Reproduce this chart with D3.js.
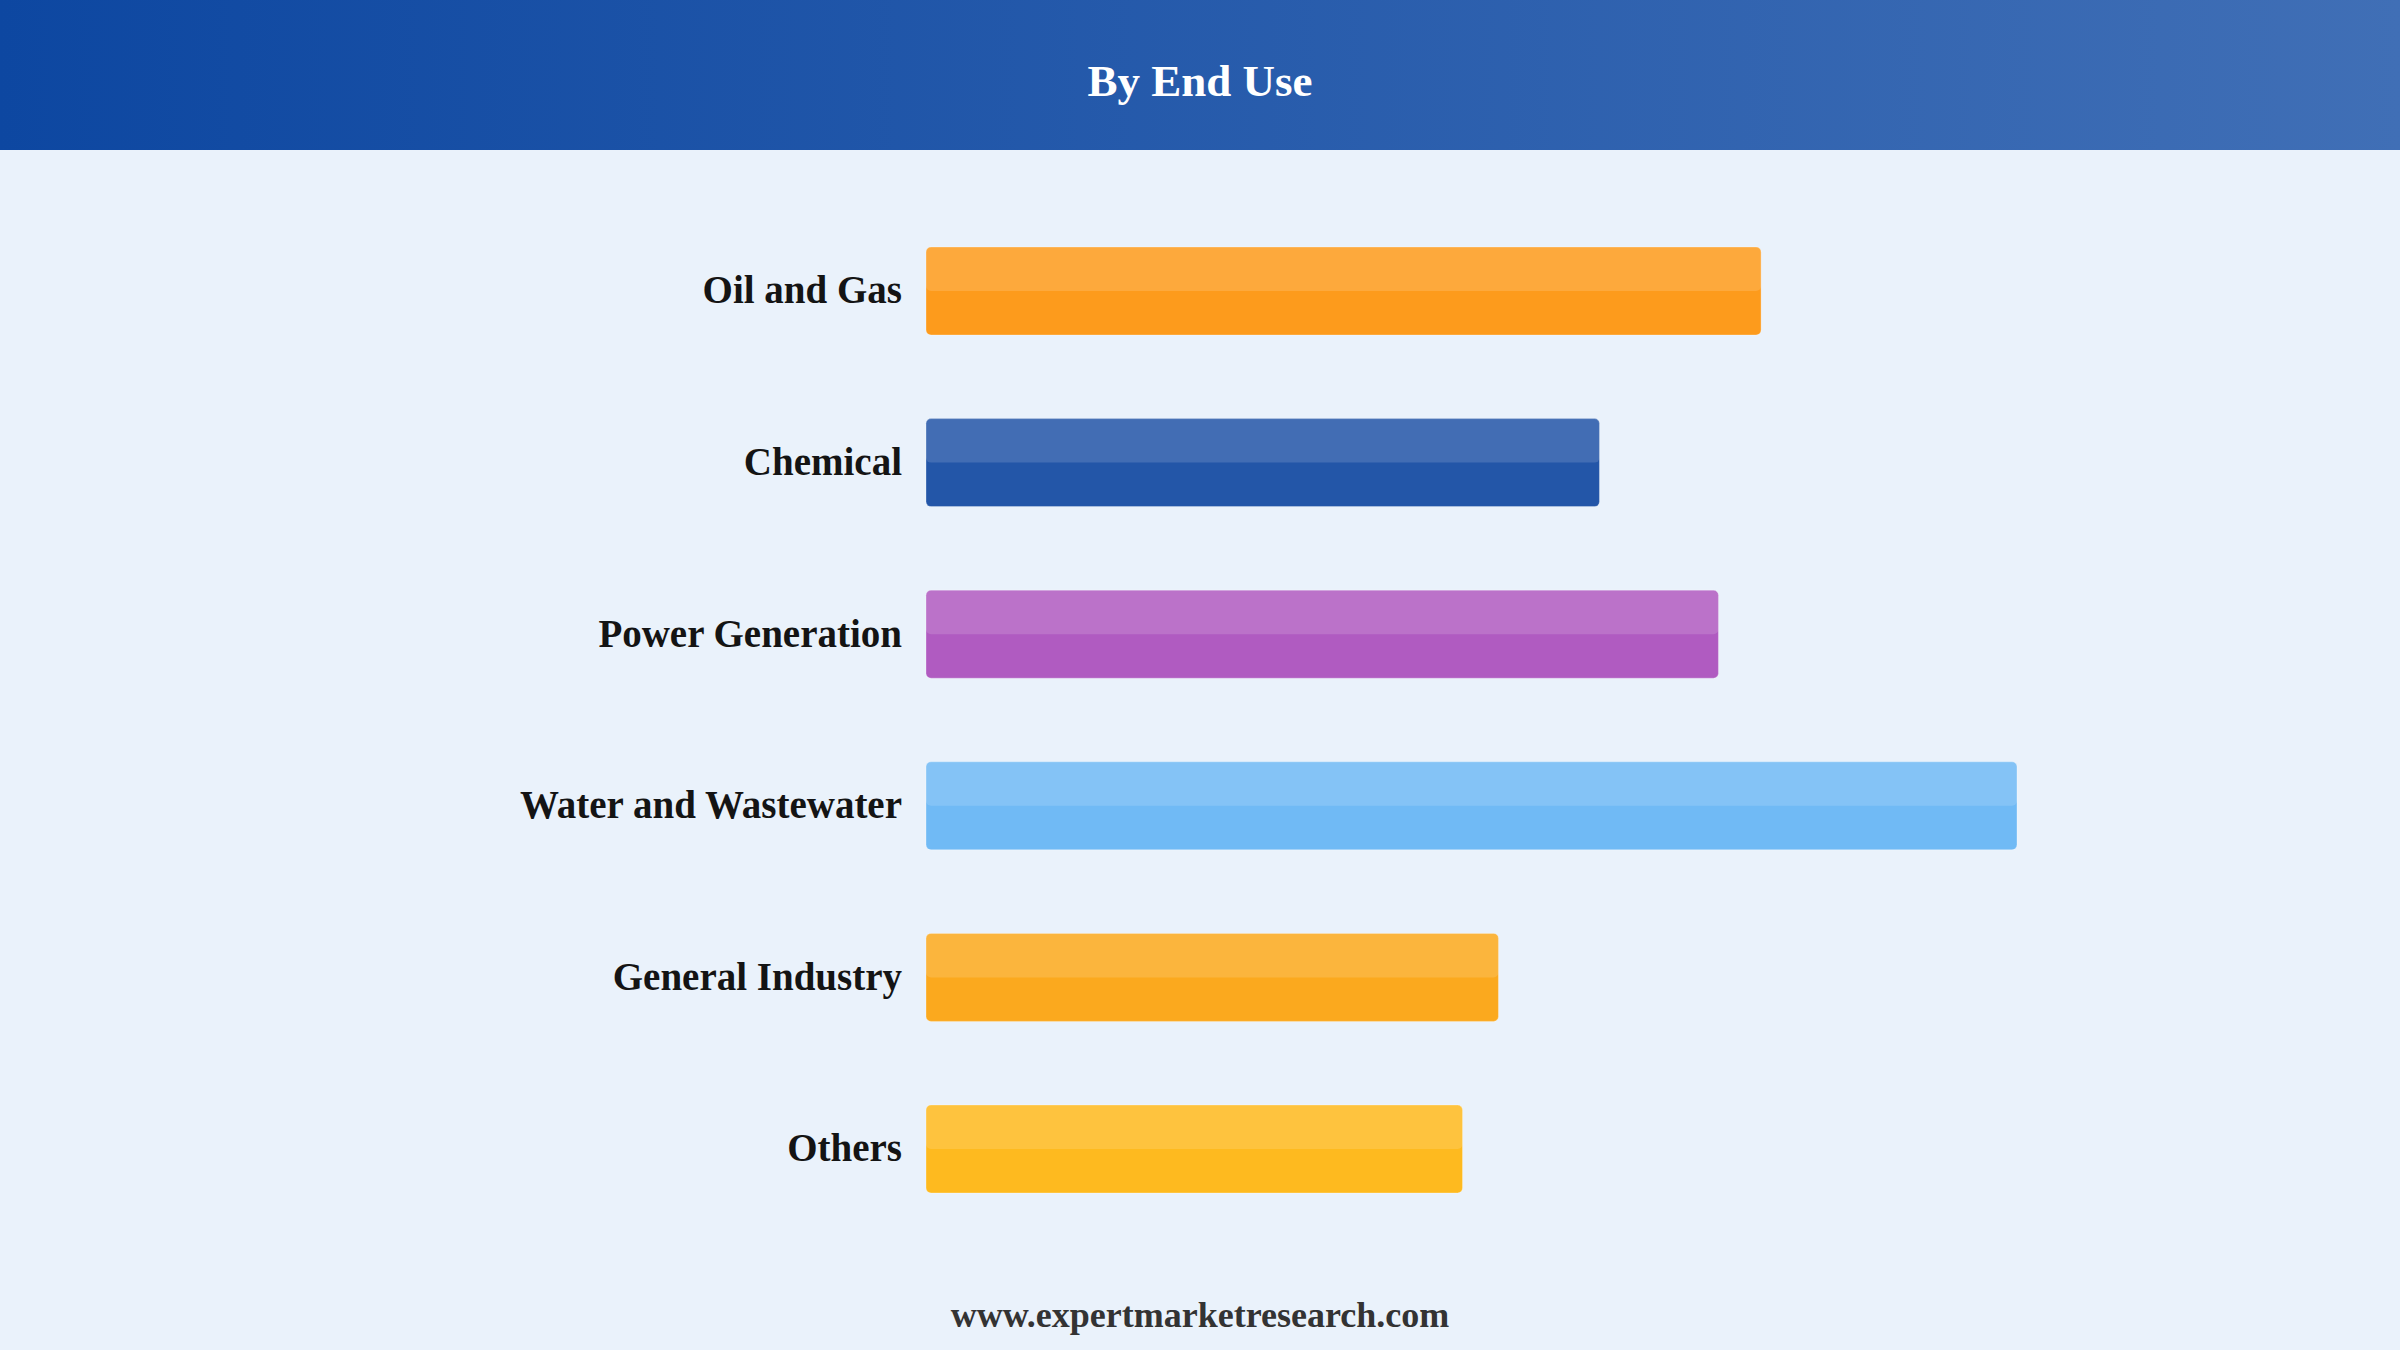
<!DOCTYPE html>
<html>
<head>
<meta charset="utf-8">
<script src="https://cdn.jsdelivr.net/npm/d3@7"></script>
<style>
  html, body { margin: 0; padding: 0; background: #EAF2FB; }
  svg { display: block; }
</style>
</head>
<body>
<svg id="chart" width="2400" height="1350"></svg>
<script>
const categories = ["Oil and Gas", "Chemical", "Power Generation", "Water and Wastewater", "General Industry", "Others"];
const values = [18.6, 15.0, 17.65, 24.3, 12.75, 11.95];
const colors = ["#FD9B1C", "#2356A8", "#B05BC1", "#70BAF5", "#FBA91E", "#FEBA1F"];
const title = "By End Use";
const footer = "www.expertmarketresearch.com";

const W = 2400, H = 1350;
const svg = d3.select("#chart");
const serif = "'Liberation Serif', 'Times New Roman', serif";

svg.append("rect").attr("width", W).attr("height", H).attr("fill", "#EAF2FB");

const defs = svg.append("defs");
const grad = defs.append("linearGradient").attr("id", "hdr").attr("x1", "0%").attr("x2", "100%").attr("y1", "0%").attr("y2", "0%");
grad.append("stop").attr("offset", "0%").attr("stop-color", "#0D47A1");
grad.append("stop").attr("offset", "100%").attr("stop-color", "#406FB6");

svg.append("rect").attr("x", 0).attr("y", 0).attr("width", W).attr("height", 150).attr("fill", "url(#hdr)");
svg.append("text").attr("x", W / 2).attr("y", 96).attr("text-anchor", "middle")
  .attr("font-family", serif).attr("font-weight", "bold").attr("font-size", 45)
  .attr("fill", "#FFFFFF").text(title);

const x = d3.scaleLinear().domain([0, d3.max(values)]).range([926, 2017]);
const y = d3.scaleBand().domain(categories).range([247, 1193]).paddingInner(0.487).paddingOuter(0);

const data = categories.map((c, i) => ({ c, v: values[i], col: colors[i] }));

const g = svg.append("g");
const rows = g.selectAll("g.row").data(data).enter().append("g").attr("class", "row");

rows.append("rect")
  .attr("x", x(0)).attr("y", d => y(d.c))
  .attr("width", d => x(d.v) - x(0)).attr("height", y.bandwidth())
  .attr("rx", 5).attr("ry", 5)
  .attr("fill", d => d.col)
  .attr("stroke", "rgba(255,255,255,0.3)").attr("stroke-width", 1);

rows.append("rect")
  .attr("x", x(0)).attr("y", d => y(d.c))
  .attr("width", d => x(d.v) - x(0)).attr("height", y.bandwidth() / 2)
  .attr("rx", 5).attr("ry", 5)
  .attr("fill", "#FFFFFF").attr("fill-opacity", 0.14);

rows.append("text")
  .attr("x", x(0) - 24).attr("y", d => y(d.c) + y.bandwidth() / 2)
  .attr("dy", "0.32em").attr("text-anchor", "end")
  .attr("font-family", serif).attr("font-weight", "bold").attr("font-size", 39)
  .attr("fill", "#141414").text(d => d.c);

svg.append("text").attr("x", W / 2).attr("y", 1327).attr("text-anchor", "middle")
  .attr("font-family", serif).attr("font-weight", "bold").attr("font-size", 36)
  .attr("fill", "#333333").text(footer);
</script>
</body>
</html>
